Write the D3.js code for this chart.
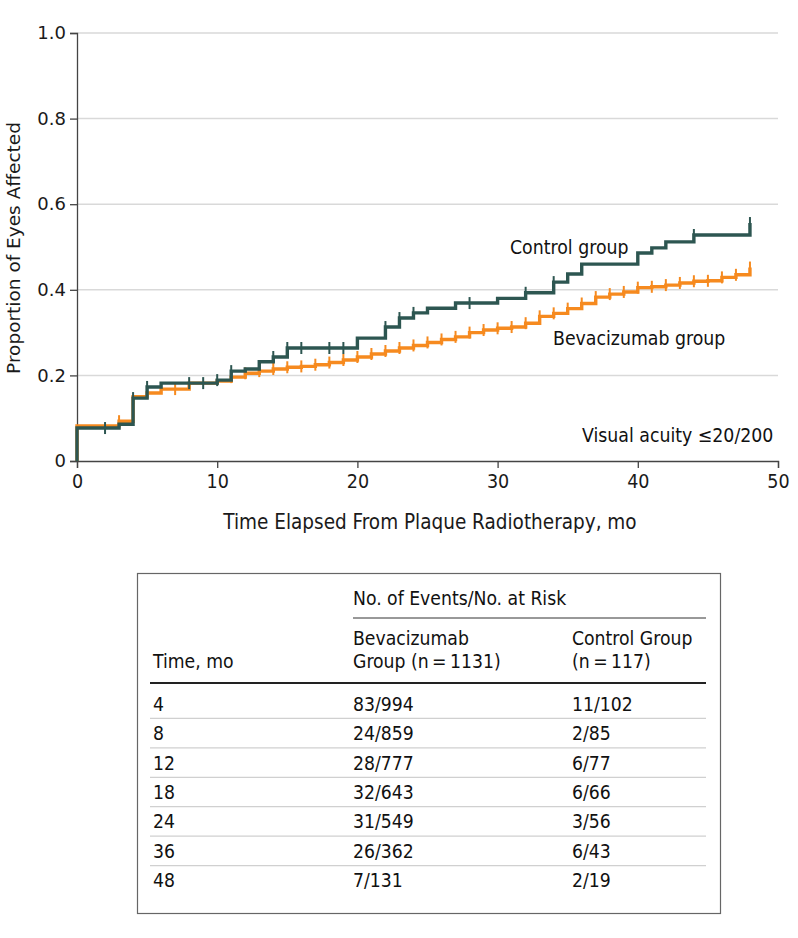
<!DOCTYPE html>
<html><head><meta charset="utf-8">
<script src="https://cdn.jsdelivr.net/npm/d3@7"></script>
<style>
body{margin:0;background:#fff;}
svg{display:block;}
</style></head>
<body>
<svg id="chart" width="798" height="938"></svg>
<script>
// ---- data ----
const controlTimes  = [0, 0, 3, 4, 5, 6, 10, 11, 12, 13, 14, 15, 20, 22, 23, 24, 25, 27, 30, 32, 34, 35, 36, 40, 41, 42, 44, 48];
const controlProps  = [0, 0.077, 0.086, 0.147, 0.173, 0.182, 0.189, 0.21, 0.215, 0.232, 0.243, 0.264, 0.287, 0.313, 0.334, 0.346, 0.357, 0.369, 0.38, 0.393, 0.418, 0.437, 0.46, 0.486, 0.498, 0.512, 0.528, 0.556];
const controlCensor = [2, 4, 5, 8, 9, 10, 11, 14, 15, 16, 18, 19, 22, 23, 24, 28, 32, 34, 44, 48];

const bevTimes  = [0, 0, 3, 4, 5, 6, 8, 10, 11, 12, 13, 14, 15, 16, 17, 18, 19, 20, 21, 22, 23, 24, 25, 26, 27, 28, 29, 30, 31, 32, 33, 34, 35, 36, 37, 38, 39, 40, 41, 42, 43, 44, 45, 46, 47, 48];
const bevProps  = [0, 0.082, 0.093, 0.150, 0.159, 0.168, 0.182, 0.187, 0.196, 0.205, 0.21, 0.215, 0.219, 0.221, 0.225, 0.23, 0.236, 0.243, 0.25, 0.257, 0.264, 0.27, 0.277, 0.284, 0.29, 0.3, 0.306, 0.31, 0.313, 0.322, 0.338, 0.345, 0.356, 0.368, 0.383, 0.39, 0.395, 0.405, 0.407, 0.411, 0.416, 0.42, 0.421, 0.429, 0.435, 0.452];
const bevCensor = [3, 7, 11, 12, 13, 14, 15, 16, 17, 18, 19, 20, 21, 22, 23, 24, 25, 26, 27, 28, 29, 30, 31, 32, 33, 34, 35, 36, 37, 38, 39, 40, 41, 42, 43, 44, 45, 46, 47, 48];

const xTicks = [0, 10, 20, 30, 40, 50];
const yTicks = [0, 0.2, 0.4, 0.6, 0.8, 1.0];

const tableTimes   = ["4", "8", "12", "18", "24", "36", "48"];
const tableBev     = ["83/994", "24/859", "28/777", "32/643", "31/549", "26/362", "7/131"];
const tableControl = ["11/102", "2/85", "6/77", "6/66", "3/56", "6/43", "2/19"];

// ---- drawing ----
const svg = d3.select("#chart");
const COND = '"DejaVu Sans Condensed","Liberation Sans Narrow",sans-serif';
const REG = '"DejaVu Sans",sans-serif';
const teal = "#2d5651", orange = "#f68a1f";

const x = d3.scaleLinear().domain([0, 50]).range([77, 778]);
const y = d3.scaleLinear().domain([0, 1]).range([461, 33]);

// gridlines
svg.append("g").selectAll("line").data(yTicks.filter(d => d > 0)).join("line")
  .attr("x1", x(0)).attr("x2", x(50)).attr("y1", d => y(d)).attr("y2", d => y(d))
  .attr("stroke", "#d9d9d9").attr("stroke-width", 1.5);

// axes
const yAxis = svg.append("g").attr("transform", `translate(${x(0)},0)`)
  .call(d3.axisLeft(y).tickValues(yTicks).tickSize(7).tickFormat(d => d === 0 ? "0" : d3.format(".1f")(d)));
yAxis.selectAll("text").attr("font-family", REG).attr("font-size", 18).attr("fill", "#1a1a1a").attr("dx", -1);
const xAxis = svg.append("g").attr("transform", `translate(0,${y(0)})`)
  .call(d3.axisBottom(x).tickValues(xTicks).tickSize(7).tickFormat(d3.format("d")));
xAxis.selectAll("text").attr("font-family", COND).attr("font-size", 19.5).attr("fill", "#1a1a1a").attr("dy", "0.85em");
[yAxis, xAxis].forEach(a => {
  a.select(".domain").attr("stroke", "#444").attr("stroke-width", 1.3);
  a.selectAll(".tick line").attr("stroke", "#444").attr("stroke-width", 1.3);
});

// axis titles
svg.append("text").attr("x", 430).attr("y", 529).attr("text-anchor", "middle")
  .attr("font-family", COND).attr("font-size", 20.5).attr("fill", "#1a1a1a")
  .text("Time Elapsed From Plaque Radiotherapy, mo");
svg.append("text").attr("transform", "translate(20,248) rotate(-90)").attr("text-anchor", "middle")
  .attr("font-family", REG).attr("font-size", 18.5).attr("fill", "#1a1a1a")
  .text("Proportion of Eyes Affected");

// curves
const line = d3.line().x(d => x(d[0])).y(d => y(d[1])).curve(d3.curveStepAfter);
function stepAt(times, props, t) {
  let v = 0;
  for (let i = 0; i < times.length; i++) if (times[i] <= t) v = props[i];
  return v;
}
function drawSeries(times, props, censor, color) {
  const pts = times.map((t, i) => [t, props[i]]);
  svg.append("path").datum(pts).attr("d", line).attr("fill", "none")
    .attr("stroke", color).attr("stroke-width", 3.4).attr("stroke-linejoin", "miter");
  svg.append("g").selectAll("line").data(censor).join("line")
    .attr("x1", d => x(d)).attr("x2", d => x(d))
    .attr("y1", d => y(stepAt(times, props, d)) - 6).attr("y2", d => y(stepAt(times, props, d)) + 6)
    .attr("stroke", color).attr("stroke-width", 2);
}
drawSeries(bevTimes, bevProps, bevCensor, orange);
drawSeries(controlTimes, controlProps, controlCensor, teal);

// annotations
const ann = [["Control group", 510, 254], ["Bevacizumab group", 553, 345], ["Visual acuity \u226420/200", 582, 442]];
svg.append("g").selectAll("text").data(ann).join("text")
  .attr("x", d => d[1]).attr("y", d => d[2]).attr("font-family", COND).attr("font-size", 19.3)
  .attr("fill", "#111").text(d => d[0]);

// ---- table ----
const tb = svg.append("g");
tb.append("rect").attr("x", 137.5).attr("y", 573.5).attr("width", 583).attr("height", 340)
  .attr("fill", "none").attr("stroke", "#666").attr("stroke-width", 1.2);
const colX = [153, 353, 572];
const tTxt = (t, xx, yy) => tb.append("text").attr("x", xx).attr("y", yy)
  .attr("font-family", COND).attr("font-size", 19.2).attr("fill", "#111").text(t);
tTxt("No. of Events/No. at Risk", colX[1], 605);
tb.append("line").attr("x1", colX[1]).attr("x2", 706).attr("y1", 618).attr("y2", 618).attr("stroke", "#333").attr("stroke-width", 1);
tTxt("Bevacizumab", colX[1], 645);
tTxt("Group (n\u2009=\u20091131)", colX[1], 668);
tTxt("Control Group", colX[2], 645);
tTxt("(n\u2009=\u2009117)", colX[2], 668);
tTxt("Time, mo", colX[0], 668);
tb.append("line").attr("x1", 150).attr("x2", 706).attr("y1", 683).attr("y2", 683).attr("stroke", "#222").attr("stroke-width", 2);

const rowY = d3.scaleBand().domain(tableTimes).range([689, 895]);
tableTimes.forEach((t, i) => {
  const cy = rowY(t) + rowY.bandwidth() / 2 + 7;
  tTxt(t, colX[0], cy);
  tTxt(tableBev[i], colX[1], cy);
  tTxt(tableControl[i], colX[2], cy);
  if (i < tableTimes.length - 1) {
    tb.append("line").attr("x1", 150).attr("x2", 706)
      .attr("y1", rowY(t) + rowY.bandwidth()).attr("y2", rowY(t) + rowY.bandwidth())
      .attr("stroke", "#d0d0d0").attr("stroke-width", 1.2);
  }
});
</script>
</body></html>
